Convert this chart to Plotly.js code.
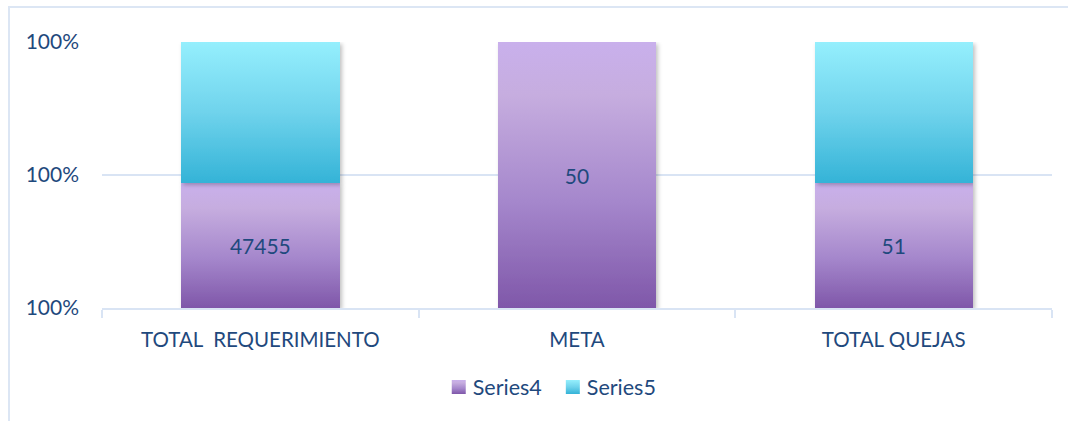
<!DOCTYPE html>
<html>
<head>
<meta charset="utf-8">
<script src="https://cdn.plot.ly/plotly-3.0.1.min.js"></script>
<style>
  html, body { margin: 0; padding: 0; background: #ffffff; }
  #frame { position: absolute; left: 8px; top: 6px; width: 1200px; height: 600px;
           border-left: 2px solid #dce6f4; border-top: 2px solid #dce6f4; }
  #chart { position: absolute; left: 0; top: 0; width: 1068px; height: 421px; }
</style>
</head>
<body>
<div id="frame"></div>
<div id="chart"></div>
<script>
// Data
const categories = ["TOTAL\u00a0\u00a0REQUERIMIENTO", "META", "TOTAL QUEJAS"];
const series4 = [47455, 50, 51];
const series5 = [53500, 0, 57.5];
const series4Labels = ["47455", "50", "51"];
const yTickVals = [0, 50, 100];
const yTickText = ["100%", "100%", "100%"];

const textColor = "#1f497d";
const fontFamily = "Lato, 'Open Sans', sans-serif";

const traces = [
  {
    type: "bar", name: "Series4", x: categories, y: series4,
    text: series4Labels, textposition: "inside", insidetextanchor: "middle",
    textfont: { color: textColor, size: 21, family: fontFamily },
    marker: { color: "#a98cd2", line: { width: 0 } },
    hoverinfo: "none"
  },
  {
    type: "bar", name: "Series5", x: categories, y: series5,
    textposition: "none",
    marker: { color: "#5cc8e6", line: { width: 0 } },
    hoverinfo: "none"
  }
];

const layout = {
  width: 1068, height: 421,
  margin: { l: 102, r: 16, t: 42, b: 113 },
  paper_bgcolor: "rgba(0,0,0,0)", plot_bgcolor: "rgba(0,0,0,0)",
  barmode: "stack", barnorm: "percent", bargap: 0.5,
  font: { family: fontFamily, color: textColor, size: 20.5 },
  showlegend: true,
  legend: { orientation: "h", x: 0.475, xanchor: "center", y: -0.297, yanchor: "middle",
            itemwidth: 30,
            font: { size: 21.5, color: textColor, family: fontFamily }, traceorder: "normal" },
  xaxis: {
    type: "category", showgrid: false, zeroline: false,
    showline: true, linecolor: "#d9e4f4", linewidth: 2,
    ticks: "outside", tickson: "boundaries", ticklen: 8, tickcolor: "#d9e4f4", tickwidth: 2,
    ticklabelstandoff: 12,
    tickfont: { size: 20.5, color: textColor, family: fontFamily }
  },
  yaxis: {
    range: [0, 100], tickvals: yTickVals, ticktext: yTickText,
    showgrid: true, gridcolor: "#d9e4f4", gridwidth: 2,
    zeroline: false, showline: false, ticks: "",
    ticklabelstandoff: 22,
    tickfont: { size: 21, color: textColor, family: fontFamily }
  }
};

Plotly.newPlot("chart", traces, layout, { displayModeBar: false, staticPlot: true }).then(function (gd) {
  const svg = gd.querySelector("svg.main-svg");
  const ns = "http://www.w3.org/2000/svg";
  let defs = svg.querySelector("defs");
  if (!defs) { defs = document.createElementNS(ns, "defs"); svg.insertBefore(defs, svg.firstChild); }
  function grad(id, stops) {
    const g = document.createElementNS(ns, "linearGradient");
    g.setAttribute("id", id); g.setAttribute("x1", "0"); g.setAttribute("y1", "0");
    g.setAttribute("x2", "0"); g.setAttribute("y2", "1");
    stops.forEach(function (s) {
      const st = document.createElementNS(ns, "stop");
      st.setAttribute("offset", s[0]); st.setAttribute("stop-color", s[1]);
      g.appendChild(st);
    });
    defs.appendChild(g);
  }
  grad("g4", [["0", "#c9b0ec"], ["0.2", "#c6addf"], ["0.6", "#a587cc"], ["1", "#7f57a9"]]);
  grad("g5", [["0", "#95effd"], ["0.5", "#6fd3ec"], ["1", "#34b3d7"]]);
  const f = document.createElementNS(ns, "filter");
  f.setAttribute("id", "shadow"); f.setAttribute("x", "-10%"); f.setAttribute("y", "-10%");
  f.setAttribute("width", "130%"); f.setAttribute("height", "130%");
  f.innerHTML = '<feDropShadow dx="2" dy="2" stdDeviation="2" flood-color="#000" flood-opacity="0.25"/>';
  defs.appendChild(f);

  const barTraces = gd.querySelectorAll(".barlayer .trace.bars");
  barTraces.forEach(function (t, i) {
    const id = i === 0 ? "g4" : "g5";
    t.querySelectorAll(".point path").forEach(function (p) {
      p.style.fill = "url(#" + id + ")";
      p.style.filter = "url(#shadow)";
    });
  });
  const legTraces = gd.querySelectorAll(".legend .traces");
  legTraces.forEach(function (t, i) {
    const id = i === 0 ? "g4" : "g5";
    t.querySelectorAll(".legendpoints path").forEach(function (p) {
      p.style.fill = "url(#" + id + ")";
      p.style.stroke = "none";
      p.setAttribute("d", "M7,7H-7V-7H7Z");
    });
    const txt = t.querySelector("text.legendtext");
    if (txt) txt.setAttribute("transform", "translate(-6,0)");
  });
});
</script>
</body>
</html>
